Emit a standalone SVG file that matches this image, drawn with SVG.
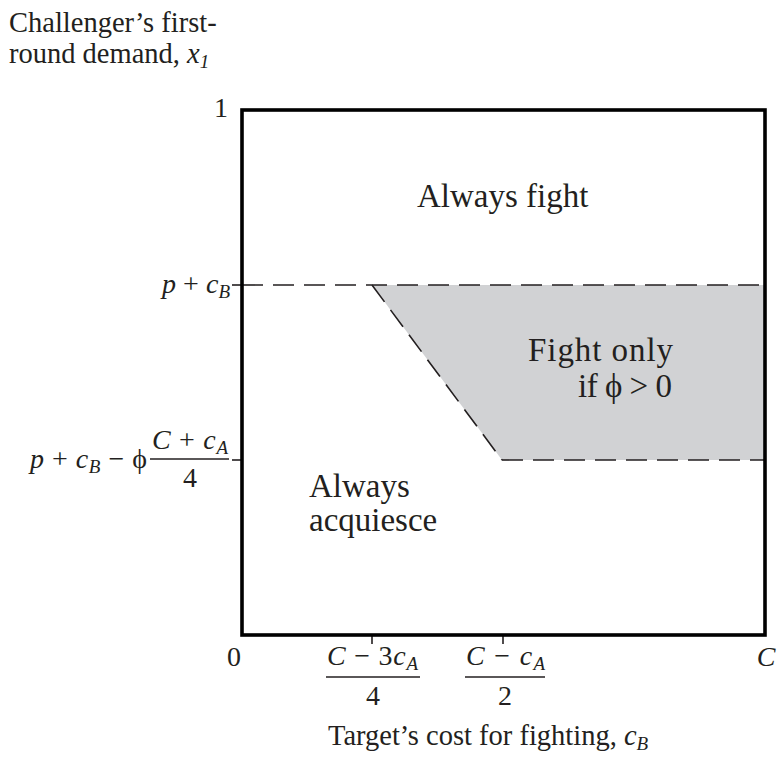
<svg xmlns="http://www.w3.org/2000/svg" width="778" height="759" viewBox="0 0 778 759">
<style>
text{font-family:"Liberation Serif","DejaVu Serif",serif;font-size:28px;fill:#231f20}
.big{font-size:33px}
.ax{font-size:28.5px}
.i{font-style:italic}
.s{font-size:19px;font-style:italic}
.dash{fill:none;stroke:#231f20;stroke-width:1.6;stroke-dasharray:21 10}
.tick{stroke:#231f20;stroke-width:1.6}
.bar{stroke:#231f20;stroke-width:1.3}
</style>
<rect width="778" height="759" fill="#fff"/>
<g id="region-fight-only">
<polygon points="372,285 765,285 765,460 502,460" fill="#d1d2d4"/>
<text class="big" x="528" y="361" textLength="145" lengthAdjust="spacing">Fight only</text>
<text class="big" x="578" y="397" textLength="94" lengthAdjust="spacing">if ϕ &gt; 0</text>
</g>
<g id="connectors">
<line class="dash" x1="242" y1="285" x2="765" y2="285"/>
<line class="dash" x1="372" y1="285" x2="502" y2="460"/>
<line class="dash" x1="502" y1="460" x2="765" y2="460"/>
<line class="tick" x1="232" y1="285" x2="242" y2="285"/>
<line class="tick" x1="232" y1="460" x2="242" y2="460"/>
<line class="tick" x1="372" y1="635" x2="372" y2="644"/>
<line class="tick" x1="503" y1="635" x2="503" y2="644"/>
</g>
<g id="frame">
<rect x="242" y="110" width="523" height="525" fill="none" stroke="#000" stroke-width="3.6"/>
</g>
<g id="region-always-fight">
<text class="big" x="417" y="207">Always fight</text>
</g>
<g id="region-acquiesce">
<text class="big" x="309" y="497">Always</text>
<text class="big" x="309" y="531">acquiesce</text>
</g>
<g id="y-axis-labels">
<text class="ax" x="9" y="32">Challenger’s first-</text>
<text class="ax" x="9" y="63">round demand, <tspan class="i">x</tspan><tspan class="s" font-style="normal" dy="5">1</tspan></text>
<text x="228" y="117" text-anchor="end">1</text>
<text x="162" y="293" textLength="68" lengthAdjust="spacing"><tspan class="i">p</tspan> + <tspan class="i">c</tspan><tspan class="s" dy="5">B</tspan></text>
<text x="30" y="468" textLength="117" lengthAdjust="spacing"><tspan class="i">p</tspan> + <tspan class="i">c</tspan><tspan class="s" dy="5">B</tspan><tspan dy="-5"> − ϕ</tspan></text>
<text x="152" y="449" textLength="76" lengthAdjust="spacing"><tspan class="i">C</tspan> + <tspan class="i">c</tspan><tspan class="s" dy="5">A</tspan></text>
<line class="bar" x1="150" y1="459" x2="229" y2="459"/>
<text x="190" y="487" text-anchor="middle">4</text>
</g>
<g id="x-axis-labels">
<text x="234" y="666" text-anchor="middle">0</text>
<text x="766" y="666" text-anchor="middle" class="i">C</text>
<text x="327" y="665" textLength="91" lengthAdjust="spacing"><tspan class="i">C</tspan> − 3<tspan class="i">c</tspan><tspan class="s" dy="5">A</tspan></text>
<line class="bar" x1="326" y1="677" x2="420" y2="677"/>
<text x="373" y="705" text-anchor="middle">4</text>
<text x="466" y="665" textLength="79" lengthAdjust="spacing"><tspan class="i">C</tspan> − <tspan class="i">c</tspan><tspan class="s" dy="5">A</tspan></text>
<line class="bar" x1="465" y1="677" x2="545" y2="677"/>
<text x="505" y="705" text-anchor="middle">2</text>
<text class="ax" x="328" y="745">Target’s cost for fighting, <tspan class="i">c</tspan><tspan class="s" dy="5">B</tspan></text>
</g>
</svg>
